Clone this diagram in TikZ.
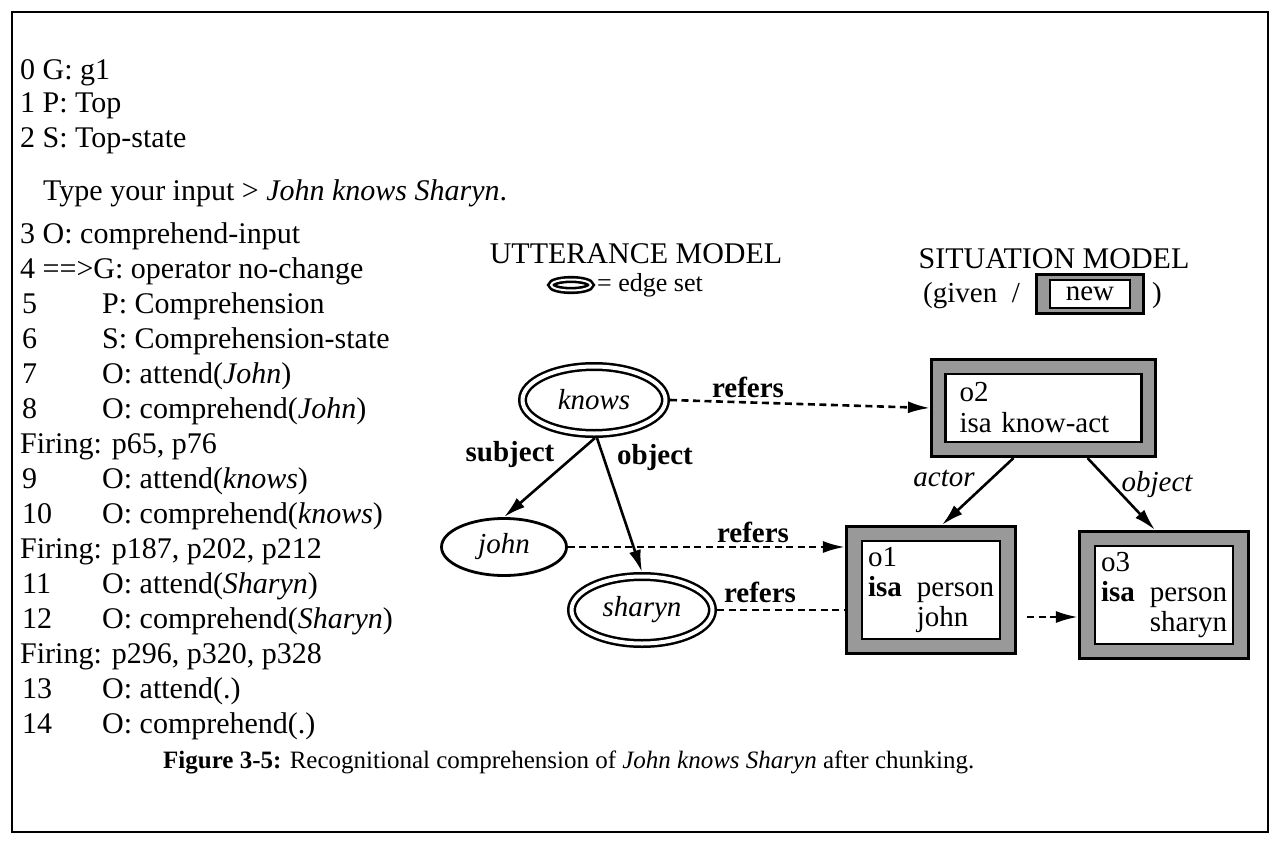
\documentclass[tikz,border=0pt]{standalone}
\usepackage{fontspec}
\setmainfont{Liberation Serif}
\usetikzlibrary{arrows.meta,shapes.geometric}
\definecolor{bandgray}{gray}{0.6}
\newcommand{\colsize}{\fontsize{30}{35}\selectfont}
\begin{document}
\begin{tikzpicture}[x=1pt,y=-1pt,
  every node/.style={inner sep=0pt},
  col/.style={anchor=base west, font=\colsize},
  heading/.style={anchor=base, font=\fontsize{30}{34}\selectfont},
  lbl/.style={anchor=base, font=\fontsize{29}{33}\selectfont\bfseries},
  ilbl/.style={anchor=base, font=\fontsize{29}{33}\selectfont\itshape},
  word/.style={ellipse, draw, line width=2.8pt, outer sep=1.4pt,
    font=\fontsize{29}{33}\selectfont\itshape},
  edgeset/.style={ellipse, draw, double, line width=2.5pt, double distance=4pt,
    outer sep=4.5pt, font=\fontsize{29}{33}\selectfont\itshape},
  sitbox/.style={rectangle, draw, fill=bandgray, line width=2.6pt, outer sep=1.3pt},
  sitin/.style={rectangle, draw, fill=white, line width=2.2pt, align=left,
    font=\fontsize{29}{30}\selectfont},
  arr/.style={line width=2.6pt, -{Latex[length=22pt,width=12pt]}},
  dasharr/.style={line width=2.6pt, dash pattern=on 7pt off 4.5pt, -{Latex[length=22pt,width=12pt]}},
  dashln/.style={line width=2.6pt, dash pattern=on 7pt off 4.5pt}
]
\useasboundingbox (0,0) rectangle (1282,848);

% outer frame
\draw[line width=2.2pt] (12,12) rectangle (1268,832);

% ---- trace column ----
\node[col] (l0) at (20,80)  {0 G: g1};
\node[col] (l1) at (20,113) {1 P: Top};
\node[col] (l2) at (20,148) {2 S: Top-state};
\node[col] (ty) at (43,200) {Type your input > \textit{John knows Sharyn}.};
\node[col] (l3) at (20,243) {3 O: comprehend-input};
\node[col] (l4) at (20,278) {4 ==>G: operator no-change};

\node[col] (n5)  at (22,313) {5};   \node[col] (t5)  at (102,313) {P: Comprehension};
\node[col] (n6)  at (22,348) {6};   \node[col] (t6)  at (102,348) {S: Comprehension-state};
\node[col] (n7)  at (22,383) {7};   \node[col] (t7)  at (102,383) {O: attend(\textit{John})};
\node[col] (n8)  at (22,418) {8};   \node[col] (t8)  at (102,418) {O: comprehend(\textit{John})};
\node[col] (f1)  at (20,453) {Firing: p65, p76};
\node[col] (n9)  at (22,488) {9};   \node[col] (t9)  at (102,488) {O: attend(\textit{knows})};
\node[col] (n10) at (22,523) {10};  \node[col] (t10) at (102,523) {O: comprehend(\textit{knows})};
\node[col] (f2)  at (20,558) {Firing: p187, p202, p212};
\node[col] (n11) at (22,593) {11};  \node[col] (t11) at (102,593) {O: attend(\textit{Sharyn})};
\node[col] (n12) at (22,628) {12};  \node[col] (t12) at (102,628) {O: comprehend(\textit{Sharyn})};
\node[col] (f3)  at (20,663) {Firing: p296, p320, p328};
\node[col] (n13) at (22,698) {13};  \node[col] (t13) at (102,698) {O: attend(.)};
\node[col] (n14) at (22,733) {14};  \node[col] (t14) at (102,733) {O: comprehend(.)};

% ---- caption ----
\node[anchor=base west, font=\fontsize{25}{30}\selectfont] (cap) at (163,768)
  {\textbf{Figure 3-5:} Recognitional comprehension of \textit{John knows Sharyn} after chunking.};

% ---- utterance model ----
\node[heading] (uhead) at (636,263) {UTTERANCE MODEL};
\node[ellipse, draw, double, line width=2.6pt, double distance=2pt,
  minimum width=40pt, minimum height=11pt] (legell) at (571,285) {};
\node[anchor=west, font=\fontsize{26}{30}\selectfont] (legtxt) at (597,285) {= edge set};

\node[edgeset, minimum width=143pt, minimum height=67pt] (knows) at (594,400) {knows};
\node[word, minimum width=125pt, minimum height=57pt] (john) at (504,547) {john};
\node[edgeset, minimum width=141pt, minimum height=67pt] (sharyn) at (642,610) {sharyn};

% ---- situation model ----
\node[heading] (shead) at (1054,268) {SITUATION MODEL};
\node[anchor=base east, font=\fontsize{29}{33}\selectfont] (given) at (1020,302) {(given \ /};
\node[sitbox, minimum width=107.5pt, minimum height=39.5pt] (newbox) at (1090,294) {};
\node[sitin, minimum width=80pt, minimum height=28pt] (newin) at (newbox.center) {new};
\node[anchor=base west, font=\fontsize{29}{33}\selectfont] (close) at (1152,302) {)};

\node[sitbox, minimum width=224.5pt, minimum height=97.5pt] (o2) at (1043.5,408) {};
\node[sitin, minimum width=196pt, minimum height=68pt, text width=168pt, inner xsep=14pt,
  font=\fontsize{29}{31}\selectfont] (o2in) at (o2.center) {o2\\isa know-act};

\node[sitbox, minimum width=169.5pt, minimum height=127.5pt] (o1) at (931,590) {};
\node[sitin, minimum width=138pt, minimum height=98pt, text width=126pt, inner xsep=6pt]
  (o1in) at (o1.center)
  {\begin{tabular}{@{}l@{\hspace{15pt}}l@{}}o1&\\\textbf{isa}&person\\&john\end{tabular}};

\node[sitbox, minimum width=169.5pt, minimum height=127.5pt] (o3) at (1164,595) {};
\node[sitin, minimum width=138pt, minimum height=98pt, text width=126pt, inner xsep=6pt]
  (o3in) at (o3.center)
  {\begin{tabular}{@{}l@{\hspace{15pt}}l@{}}o3&\\\textbf{isa}&person\\&sharyn\end{tabular}};

% ---- connectors ----
\draw[arr] ([xshift=1pt]knows.south) -- (john.north);
\draw[arr] ([xshift=3pt]knows.south) -- (sharyn.north);
\draw[dasharr] (knows.east) -- (o2.west);
\draw[dasharr] (john.east) -- (john.east -| o1.west);
\draw[dashln] (sharyn.east) -- (sharyn.east -| o1.west);
\draw[arr] ([xshift=-30pt]o2.south) -- ([xshift=11pt]o1.north);
\draw[arr] ([xshift=44pt]o2.south) -- ([xshift=-9pt]o3.north);
\draw[dasharr, shorten <=10pt] ([yshift=-27pt]o1.east) -- ([yshift=-27pt]o1.east -| o3.west);

% ---- connector labels ----
\node[lbl] (ref1) at (748,397) {refers};
\node[lbl] (ref2) at (753,542) {refers};
\node[lbl] (ref3) at (760,602) {refers};
\node[lbl] (subj) at (510,461) {subject};
\node[lbl] (obj)  at (655,464) {object};
\node[ilbl] (act) at (944,486) {actor};
\node[ilbl] (obj2) at (1157,491) {object};
\end{tikzpicture}
\end{document}
